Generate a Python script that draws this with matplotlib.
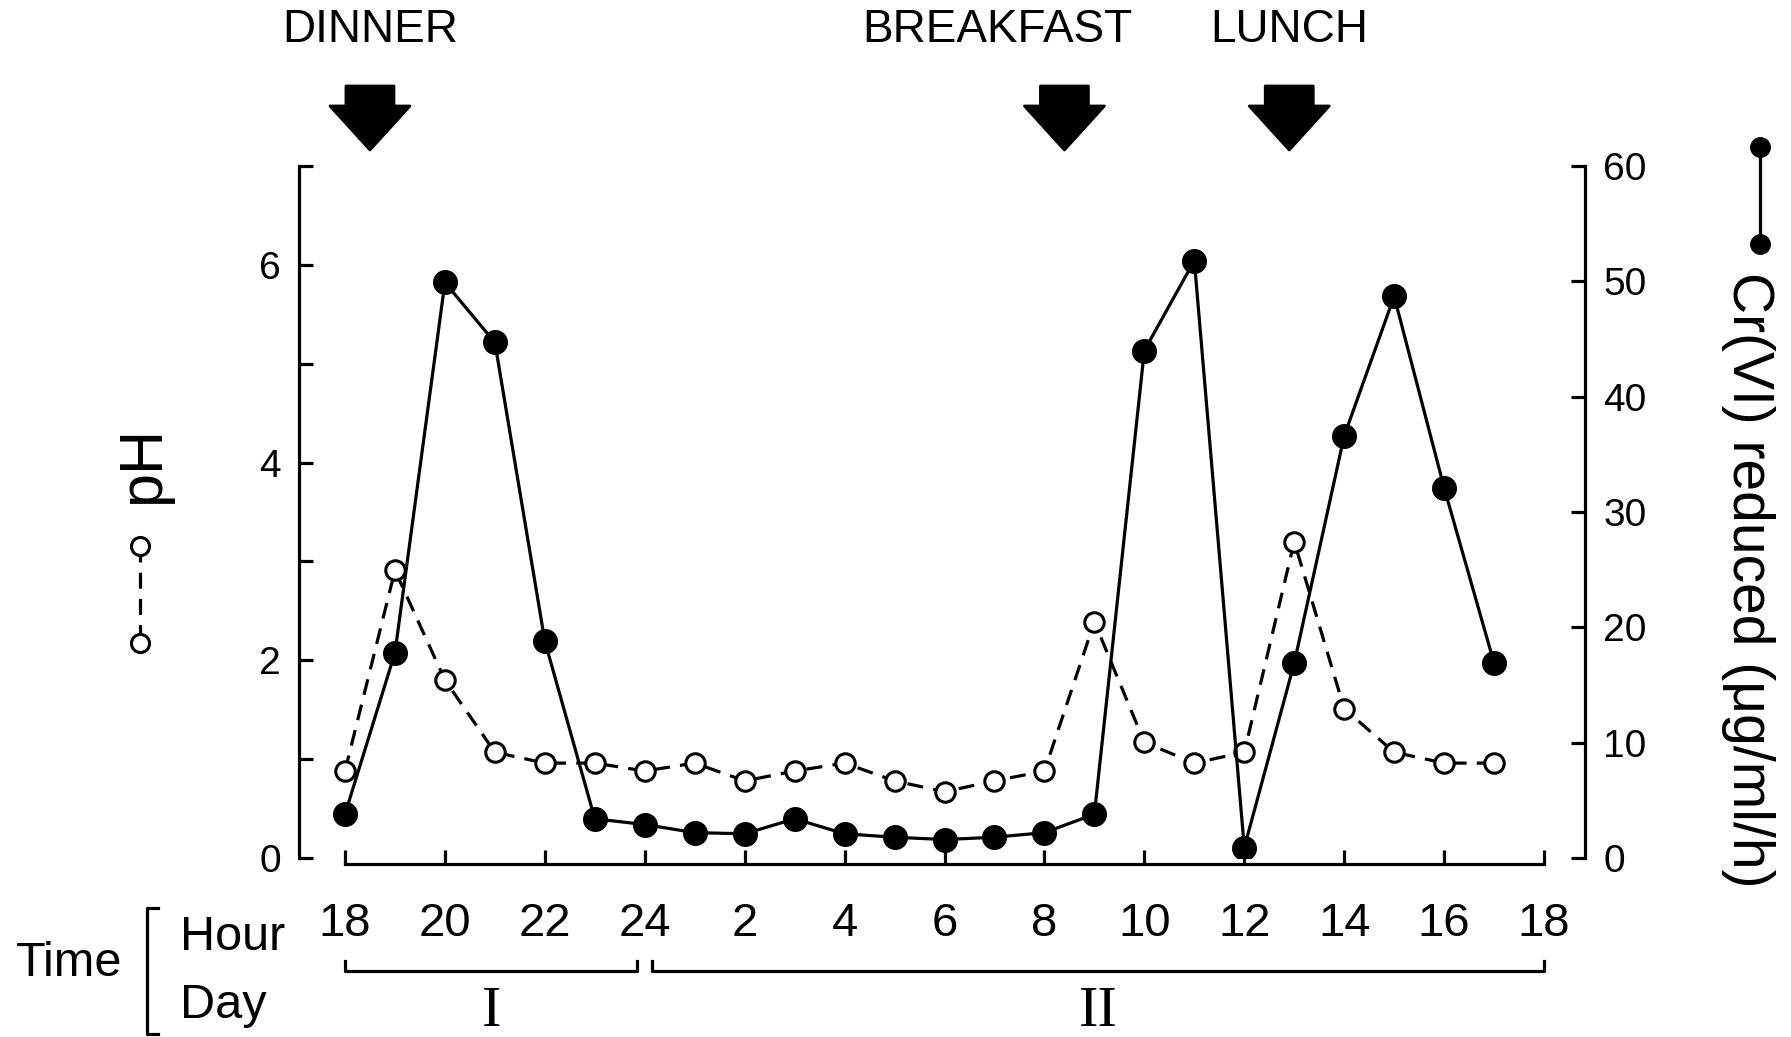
import numpy as np
import matplotlib.pyplot as plt
from matplotlib.patches import Polygon
from matplotlib.lines import Line2D
from matplotlib.transforms import blended_transform_factory

# sampling clock hours, from 18:00 on day I to 17:00 on day II
clock_hours = [18, 19, 20, 21, 22, 23, 0, 1, 2, 3, 4, 5, 6, 7, 8, 9, 10, 11, 12, 13, 14, 15, 16, 17]
ph = [0.88, 2.91, 1.80, 1.07, 0.96, 0.96, 0.88, 0.96, 0.78, 0.88, 0.96, 0.78,
      0.67, 0.78, 0.88, 2.39, 1.17, 0.96, 1.07, 3.20, 1.51, 1.07, 0.96, 0.96]
cr_reduced = [3.8, 17.8, 49.9, 44.7, 18.8, 3.4, 2.9, 2.2, 2.1, 3.4, 2.1, 1.8,
              1.6, 1.8, 2.2, 3.8, 44.0, 51.8, 0.9, 16.9, 36.6, 48.7, 32.1, 16.9]
hour_labels = ['18', '20', '22', '24', '2', '4', '6', '8', '10', '12', '14', '16', '18']
meals = ['DINNER', 'BREAKFAST', 'LUNCH']
meal_clock = [18.5, 8.4, 12.9]
meal_label_clock = [18.5, 7.05, 12.9]
days = ['I', 'II']
day_spans = [(0, 5.85), (6.15, 24)]

W, H = 1791, 1037
narrow = ['Liberation Sans Narrow', 'Liberation Sans']
sans = ['Liberation Sans', 'DejaVu Sans']


def elapsed(h):
    return (h - 18) % 24


x = np.array([elapsed(h) for h in clock_hours])

fig = plt.figure(figsize=(W / 100, H / 100), dpi=100)
ax = fig.add_axes([299 / W, 1 - 858 / H, (1585 - 299) / W, (858 - 166) / H])
ax2 = ax.twinx()

ax.set_xlim((299 - 345) / 49.96, (1585 - 345) / 49.96)
ax.set_ylim(0, 7)
ax2.set_ylim(0, 60)

lw = 2.3
dash = (0, (5, 3.2))
ax.plot(x, ph, color='black', lw=lw, ls=dash, marker='o', ms=14,
        mfc='white', mec='black', mew=2.2, zorder=3)
ax2.plot(x, cr_reduced, color='black', lw=lw, marker='o', ms=17,
         mfc='black', mec='black', zorder=3)

# spines
for s in ['top', 'right']:
    ax.spines[s].set_visible(False)
for s in ['top', 'left', 'bottom']:
    ax2.spines[s].set_visible(False)
ax.spines['left'].set_bounds(0, 7)
ax.spines['bottom'].set_bounds(0, 24)
ax.spines['bottom'].set_position(('outward', 4))
for sp in [ax.spines['left'], ax.spines['bottom'], ax2.spines['right']]:
    sp.set_linewidth(lw)

ax.set_yticks(range(8))
ax.set_yticklabels([str(v) if v % 2 == 0 and v < 7 else '' for v in range(8)],
                   family=sans)
ax2.set_yticks(range(0, 61, 10))
ax2.set_yticklabels([str(v) for v in range(0, 61, 10)], family=sans)
ax.tick_params(axis='y', direction='in', length=10, width=lw, labelsize=28, pad=13)
ax2.tick_params(axis='y', direction='in', length=10, width=lw, labelsize=28, pad=13)

ax.set_xticks(range(0, 25, 2))
ax.set_xticklabels(hour_labels, family=narrow)
ax.tick_params(axis='x', direction='in', length=10, width=lw, labelsize=34, pad=28)

# meal arrows and labels
for name, t, tl in zip(meals, meal_clock, meal_label_clock):
    cx = ax.transData.transform((elapsed(t), 0))[0]
    lx = ax.transData.transform((elapsed(tl), 0))[0]
    pts = [(-24, 86), (24, 86), (24, 106), (40, 106), (0, 150),
           (-40, 106), (-24, 106)]
    poly = [((cx + dx) / W, 1 - dy / H) for dx, dy in pts]
    fig.add_artist(Polygon(poly, closed=True, transform=fig.transFigure,
                           facecolor='black', edgecolor='black', lw=2,
                           joinstyle='round'))
    fig.text(lx / W, 1 - 30 / H, name, ha='center', va='center',
             fontsize=33, family=sans)

# day brackets under the hour axis
tr = blended_transform_factory(ax.transData, fig.transFigure)
yb = 1 - 971 / H
yt = 1 - 961 / H
for d, (a, b) in zip(days, day_spans):
    fig.add_artist(Line2D([a, a, b, b], [yt, yb, yb, yt], transform=tr,
                          color='black', lw=lw))
    fig.text((ax.transData.transform(((a + b) / 2, 0))[0]) / W, 1 - 1012 / H, d,
             ha='center', va='center', fontsize=42, family='Liberation Serif')

# Time / Hour / Day labels with bracket
fig.text(69 / W, 1 - 963 / H, 'Time', ha='center', va='center', fontsize=35, family=narrow)
fig.text(180 / W, 1 - 937 / H, 'Hour', ha='left', va='center', fontsize=35, family=narrow)
fig.text(180 / W, 1 - 1006 / H, 'Day', ha='left', va='center', fontsize=35, family=narrow)
fig.add_artist(Line2D([158 / W, 147 / W, 147 / W, 158 / W],
                      [1 - 908 / H, 1 - 908 / H, 1 - 1034 / H, 1 - 1034 / H],
                      transform=fig.transFigure, color='black', lw=lw))

# axis labels with symbol keys
fig.text(144 / W, 1 - 465 / H, 'pH', rotation=90, ha='center', va='center',
         fontsize=44, family=sans)
fig.add_artist(Line2D([140 / W, 140 / W], [1 - 546 / H, 1 - 643 / H],
                      transform=fig.transFigure, color='black', lw=lw,
                      ls=dash, marker='o', ms=13, mfc='white',
                      mec='black', mew=2.2))
fig.text(1748 / W, 1 - 580 / H, 'Cr(VI) reduced (μg/ml/h)', rotation=270,
         ha='center', va='center', fontsize=41, family=narrow)
fig.add_artist(Line2D([1760 / W, 1760 / W], [1 - 147 / H, 1 - 244 / H],
                      transform=fig.transFigure, color='black', lw=lw,
                      marker='o', ms=14, mfc='black', mec='black'))

fig.savefig('out.png', dpi=100)
